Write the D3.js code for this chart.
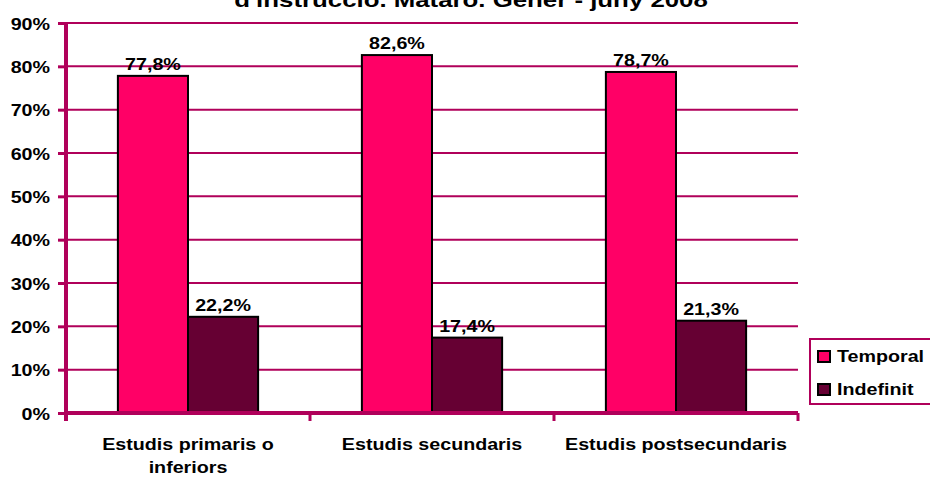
<!DOCTYPE html>
<html>
<head>
<meta charset="utf-8">
<script src="https://cdn.jsdelivr.net/npm/d3@7"></script>
<style>
  body { margin: 0; background: #fff; }
  text { font-family: "Liberation Sans", Arial, sans-serif; font-weight: bold; fill: #000; }
</style>
</head>
<body>
<svg id="chart" width="930" height="477"></svg>
<script>
const categories = ['Estudis primaris o inferiors', 'Estudis secundaris', 'Estudis postsecundaris']
const categoryLines = [['Estudis primaris o', 'inferiors'], ['Estudis secundaris'], ['Estudis postsecundaris']]
const seriesNames = ['Temporal', 'Indefinit']
const temporal = [77.8, 82.6, 78.7]
const indefinit = [22.2, 17.4, 21.3]
const yTicks = [0, 10, 20, 30, 40, 50, 60, 70, 80, 90]
const title = "d'instrucció. Mataró. Gener - juny 2008"

const colors = ['#FF0066', '#660033']
const axisColor = '#B0005A'
const stretch = 1.23   // the original picture is widened, text included

const svg = d3.select('#chart')
const margin = { left: 66, right: 132, top: 23, bottom: 64 }
const width = 930
const height = 477

// wide text, anchored at (x, y)
function wideText(parent, x, y, str, size, anchor) {
    return parent.append('text')
        .attr('transform', `translate(${x},${y}) scale(${stretch},1)`)
        .attr('text-anchor', anchor || 'middle')
        .style('font-size', size + 'px')
        .text(str)
}

let x = d3.scaleBand()
    .domain(categories)
    .range([margin.left, width - margin.right])

let xInner = d3.scaleBand()
    .domain(seriesNames)
    .range([0, x.bandwidth()])
    .paddingOuter(0.74)
    .paddingInner(0)

let y = d3.scaleLinear()
    .domain([0, 90])
    .range([height - margin.bottom, margin.top])

// title (cut off at the top in the original)
wideText(svg, 471, 7, title, 21)

// grid lines
svg.append('g')
    .selectAll('line')
    .data(yTicks.filter(d => d > 0))
    .join('line')
    .attr('x1', margin.left)
    .attr('x2', width - margin.right)
    .attr('y1', d => y(d))
    .attr('y2', d => y(d))
    .attr('stroke', axisColor)
    .attr('stroke-width', 2)

// y axis
let yAxis = svg.append('g')
    .attr('transform', `translate(${margin.left},0)`)
    .call(d3.axisLeft(y).tickValues(yTicks).tickFormat(d => d + '%').tickSize(8))
yAxis.select('.domain').attr('stroke', axisColor).attr('stroke-width', 4)
    .attr('d', `M0,${y(90)}V${y(0) + 8}`)
yAxis.selectAll('.tick line').attr('stroke', axisColor).attr('stroke-width', 3)
yAxis.selectAll('.tick text')
    .attr('x', -16 / stretch)
    .attr('dy', null)
    .attr('y', 6)
    .attr('transform', `scale(${stretch},1)`)
    .style('font-size', '16px')
    .style('font-family', '"Liberation Sans", Arial, sans-serif')
    .style('font-weight', 'bold')
    .attr('fill', '#000')

// bars
let data = categories.map((c, i) => ({ category: c, values: [temporal[i], indefinit[i]] }))

let groups = svg.append('g')
    .selectAll('g')
    .data(data)
    .join('g')
    .attr('transform', d => `translate(${x(d.category)},0)`)

groups.selectAll('rect')
    .data(d => d.values.map((v, j) => ({ name: seriesNames[j], value: v, color: colors[j] })))
    .join('rect')
    .attr('x', d => xInner(d.name))
    .attr('width', xInner.bandwidth())
    .attr('y', d => y(d.value))
    .attr('height', d => y(0) - y(d.value))
    .attr('fill', d => d.color)
    .attr('stroke', '#000')
    .attr('stroke-width', 2)

groups.each(function (d) {
    let g = d3.select(this)
    d.values.forEach((v, j) => {
        wideText(g, xInner(seriesNames[j]) + xInner.bandwidth() / 2, y(v) - 6,
            v.toFixed(1).replace('.', ',') + '%', 16)
    })
})

// x axis
let xAxis = svg.append('g')
xAxis.append('line')
    .attr('x1', margin.left)
    .attr('x2', width - margin.right)
    .attr('y1', y(0))
    .attr('y2', y(0))
    .attr('stroke', axisColor)
    .attr('stroke-width', 4)

xAxis.selectAll('line.tick')
    .data(categories.map(c => x(c)).concat([x(categories[categories.length - 1]) + x.bandwidth()]))
    .join('line')
    .attr('class', 'tick')
    .attr('x1', d => d)
    .attr('x2', d => d)
    .attr('y1', y(0))
    .attr('y2', y(0) + 8)
    .attr('stroke', axisColor)
    .attr('stroke-width', 3)

categories.forEach((c, i) => {
    categoryLines[i].forEach((line, k) => {
        wideText(xAxis, x(c) + x.bandwidth() / 2, 450 + k * 23, line, 16)
    })
})

// legend
let legend = svg.append('g')
legend.append('rect')
    .attr('x', 810)
    .attr('y', 339)
    .attr('width', 125)
    .attr('height', 65)
    .attr('fill', '#fff')
    .attr('stroke', axisColor)
    .attr('stroke-width', 2)

seriesNames.forEach((name, i) => {
    let yy = 351 + i * 33
    legend.append('rect')
        .attr('x', 818)
        .attr('y', yy)
        .attr('width', 12)
        .attr('height', 11)
        .attr('fill', colors[i])
        .attr('stroke', '#000')
        .attr('stroke-width', 2)
    wideText(legend, 837, yy + 11, name, 16, 'start')
})
</script>
</body>
</html>
